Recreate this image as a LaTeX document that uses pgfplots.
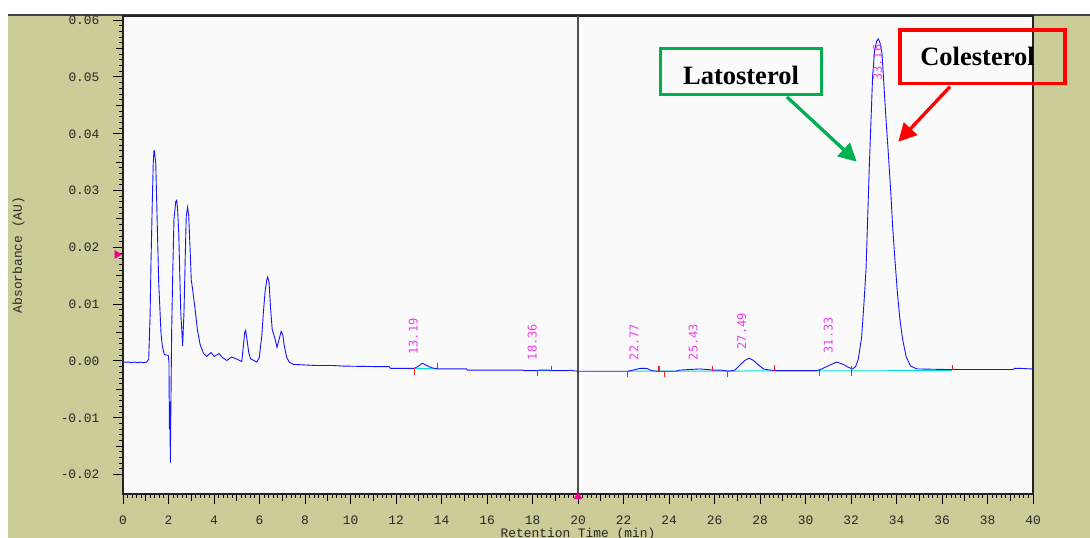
\documentclass[border=0pt]{standalone}
\usepackage{fontspec}
\setmainfont{Liberation Serif}
\newfontfamily\monof{Liberation Mono}
\newfontfamily\labf{DejaVu Sans Mono}
\usepackage{pgfplots}
\pgfplotsset{compat=1.18}
\usetikzlibrary{arrows.meta}
\definecolor{bgolive}{RGB}{204,204,153}
\definecolor{tickgray}{RGB}{40,40,40}
\definecolor{pklabel}{RGB}{240,60,240}
\definecolor{cyanbl}{RGB}{0,225,225}
\definecolor{annogreen}{RGB}{0,176,80}
\definecolor{curveblue}{RGB}{20,20,255}
\definecolor{mkred}{RGB}{240,30,30}
\begin{document}
\begin{tikzpicture}[x=1pt,y=1pt]
\useasboundingbox (0,0) rectangle (1090,538);
\fill[white] (0,0) rectangle (1090,538);
\fill[bgolive] (8,0) rectangle (1090,523);
\draw[line width=2pt, draw={rgb,255:red,64;green,64;blue,64}] (8,523) -- (1090,523);
\begin{axis}[
  at={(123pt,44pt)}, anchor=south west,
  width=910pt, height=478pt, scale only axis,
  xmin=0, xmax=40, ymin=-0.02342, ymax=0.06074,
  scaled x ticks=false, scaled y ticks=false,
  axis background/.style={fill={rgb,255:red,250;green,250;blue,250}},
  axis line style={draw={rgb,255:red,35;green,35;blue,35}, line width=1.4pt},
  clip=false,
  tick align=outside, tick pos=left,
  major tick length=10pt, minor tick length=4pt,
  every tick/.style={black, line width=1pt},
  xtick={0,2,4,6,8,10,12,14,16,18,20,22,24,26,28,30,32,34,36,38,40},
  xticklabels={0,2,4,6,8,10,12,14,16,18,20,22,24,26,28,30,32,34,36,38,40},
  ytick={-0.02,-0.01,0,0.01,0.02,0.03,0.04,0.05,0.06},
  yticklabels={-0.02,-0.01,0.00,0.01,0.02,0.03,0.04,0.05,0.06},
  minor x tick num=9, minor y tick num=9,
  extra x ticks={1,3,5,7,9,11,13,15,17,19,21,23,25,27,29,31,33,35,37,39},
  extra x tick labels={},
  extra y ticks={-0.015,-0.005,0.005,0.015,0.025,0.035,0.045,0.055},
  extra y tick labels={},
  extra tick style={major tick length=7pt},
  tick label style={font=\monof\fontsize{12.9}{14}\selectfont, text=tickgray},
  xticklabel style={yshift=-8pt},
  yticklabel style={xshift=-10pt},
  xlabel={Retention Time (min)},
  ylabel={Absorbance (AU)},
  label style={font=\monof\fontsize{12.9}{14}\selectfont, text=tickgray},
  xlabel style={at={(axis description cs:0.5,-0.08996)}, anchor=base},
  ylabel style={at={(axis description cs:-0.11099,0.5)}, anchor=base, rotate=0},
  unbounded coords=jump,
]
% vertical cursor line at 20 min
\addplot[draw={rgb,255:red,80;green,80;blue,80}, line width=1.2pt] coordinates {(20,-0.02342) (20,0.06074)};
% integration baselines
\addplot[cyanbl, line width=1pt] coordinates {
(12.80,-0.0013) (13.83,-0.0014) (13.83,nan)
(18.23,-0.0017) (18.83,-0.0017) (18.83,nan)
(22.17,-0.0018) (36.45,-0.0017)
};
% chromatogram
\addplot[curveblue, line width=0.9pt] coordinates {
(0,-0.0002) (0.3,-0.0002) (0.35,-0.0003) (0.5,-0.0002) (0.7,-0.0003) (0.75,-0.0002) (0.9,-0.0003) (1.04,-0.0002)
(1.13,0.0003) (1.19,0.0079) (1.23,0.0172) (1.29,0.0284) (1.33,0.0349) (1.36,0.0370) (1.38,0.0370) (1.44,0.0348)
(1.48,0.0284) (1.53,0.0201) (1.57,0.0137) (1.63,0.0085) (1.67,0.0049) (1.73,0.0026) (1.82,0.0011) (1.99,0.0010)
(2.02,-0.0002) (2.04,-0.0120) (2.06,-0.0072) (2.08,-0.0179) (2.10,-0.0100) (2.14,0.0055) (2.19,0.0161) (2.24,0.0249)
(2.32,0.0281) (2.36,0.0283) (2.40,0.0267) (2.45,0.0226) (2.49,0.0161) (2.54,0.0085) (2.59,0.0050) (2.62,0.0026)
(2.68,0.0085) (2.74,0.0190) (2.78,0.0255) (2.84,0.0271) (2.89,0.0255) (2.95,0.0196) (3.00,0.0143) (3.06,0.0126)
(3.17,0.0091) (3.27,0.0055) (3.39,0.0029) (3.53,0.0014) (3.68,0.0008) (3.87,0.0015) (4.01,0.0008) (4.22,0.0013)
(4.37,0.0006) (4.56,0.0001) (4.78,0.0007) (5.02,0.0003) (5.22,-0.0001) (5.29,0.0026) (5.35,0.0050) (5.39,0.0054)
(5.45,0.0038) (5.53,0.0014) (5.61,0.0004) (5.88,-0.0002) (5.99,0.0006) (6.10,0.0044) (6.17,0.0085) (6.24,0.0120)
(6.32,0.0143) (6.36,0.0148) (6.42,0.0138) (6.49,0.0091) (6.56,0.0055) (6.67,0.0041) (6.77,0.0024) (6.86,0.0038)
(6.95,0.0052) (7.02,0.0047) (7.09,0.0026) (7.20,0.0006) (7.31,-0.0002) (7.49,-0.0006) (8.51,-0.0008) (9.24,-0.0008)
(9.68,-0.0009) (11.3,-0.0010) (11.7,-0.0010) (11.76,-0.0013) (12.8,-0.0013) (12.99,-0.0009) (13.16,-0.0004)
(13.35,-0.0008) (13.57,-0.0012) (13.86,-0.0014) (15.1,-0.0014) (15.13,-0.0016) (17.58,-0.0016) (17.62,-0.0017)
(18.2,-0.0017) (18.3,-0.0016) (18.7,-0.0016) (18.8,-0.0017) (19.6,-0.0017) (19.65,-0.0016) (19.75,-0.0017)
(20.0,-0.0018) (22.2,-0.0018) (22.43,-0.0016) (22.73,-0.0013) (23.02,-0.0013) (23.24,-0.0017) (23.5,-0.0018)
(24.3,-0.0018) (24.48,-0.0016) (24.92,-0.0015) (25.36,-0.0014) (25.66,-0.0015) (25.95,-0.0016) (26.3,-0.0016)
(26.61,-0.0018) (26.90,-0.0016) (27.12,-0.0007) (27.34,0.0001) (27.52,0.0005) (27.71,0.0001) (27.93,-0.0007)
(28.15,-0.0014) (28.44,-0.0016) (28.73,-0.0017) (30.49,-0.0017) (30.71,-0.0014) (31.08,-0.0007) (31.37,-0.0002)
(31.66,-0.0006) (31.88,-0.0011) (32.06,-0.0014) (32.20,-0.0010) (32.32,0.0003) (32.47,0.0043) (32.57,0.0102)
(32.66,0.0161) (32.73,0.0248) (32.80,0.0337) (32.88,0.0425) (32.95,0.0501) (33.04,0.0548) (33.13,0.0563)
(33.20,0.0567) (33.27,0.0561) (33.36,0.0543) (33.45,0.0484) (33.54,0.0425) (33.64,0.0366) (33.75,0.0296)
(33.83,0.0237) (33.93,0.0179) (34.04,0.0120) (34.15,0.0073) (34.27,0.0038) (34.42,0.0008) (34.62,-0.0009)
(34.89,-0.0014) (36.21,-0.0015) (39.12,-0.0015) (39.2,-0.0013) (39.5,-0.0013) (39.87,-0.0014) (40,-0.0014)
};
% peak start/end markers
\addplot[mkred, line width=1.1pt] coordinates {
(12.80,-0.0013) (12.80,-0.0024) (12.80,nan)
(13.83,-0.0003) (13.83,-0.0013) (13.83,nan)
(18.23,-0.0016) (18.23,-0.0026) (18.23,nan)
(18.83,-0.0008) (18.83,-0.0017) (18.83,nan)
(22.17,-0.0020) (22.17,-0.0029) (22.17,nan)
(23.56,-0.0009) (23.56,-0.0018) (23.56,nan)
(23.82,-0.0020) (23.82,-0.0029) (23.82,nan)
(25.92,-0.0008) (25.92,-0.0017) (25.92,nan)
(26.58,-0.0017) (26.58,-0.0028) (26.58,nan)
(28.63,-0.0007) (28.63,-0.0017) (28.63,nan)
(30.61,-0.0016) (30.61,-0.0026) (30.61,nan)
(32.03,-0.0009) (32.03,-0.0026) (32.03,nan)
(36.45,-0.0007) (36.45,-0.0016)
};
% cursor markers
\addplot[only marks, mark=triangle*, magenta, mark size=4.5pt] coordinates {(20,-0.0239)};
\addplot[only marks, mark=triangle*, magenta, mark size=4.5pt, mark options={rotate=-90}] coordinates {(-0.26,0.01875)};
% retention time labels
\begin{scope}[every node/.style={font=\labf\fontsize{12}{13}\selectfont, text=pklabel, rotate=90, anchor=west, inner sep=0pt}]
\node at (axis cs:12.76,0.0011) {13.19};
\node at (axis cs:17.99,0.0001) {18.36};
\node at (axis cs:22.46,0.0001) {22.77};
\node at (axis cs:25.07,0.0001) {25.43};
\node at (axis cs:27.20,0.0020) {27.49};
\node at (axis cs:31.00,0.0013) {31.33};
\node at (axis cs:33.17,0.0493) {33.16};
\end{scope}
\end{axis}
% annotations
\draw[annogreen, line width=3pt] (660.5,489.5) rectangle (821.5,443.5);
\node[font=\bfseries\fontsize{26.5}{30}\selectfont] at (741,463) {Latosterol};
\draw[red, line width=3.3pt] (900,508) rectangle (1065,454.5);
\node[font=\bfseries\fontsize{26.5}{30}\selectfont] at (977.5,482) {Colesterol};
\draw[annogreen, line width=3.3pt, -{Triangle[length=18pt,width=18pt]}] (787,441) -- (856.7,376.3);
\draw[red, line width=3.3pt, -{Triangle[length=18pt,width=18pt]}] (950,451.3) -- (898.3,396.3);
\end{tikzpicture}
\end{document}
